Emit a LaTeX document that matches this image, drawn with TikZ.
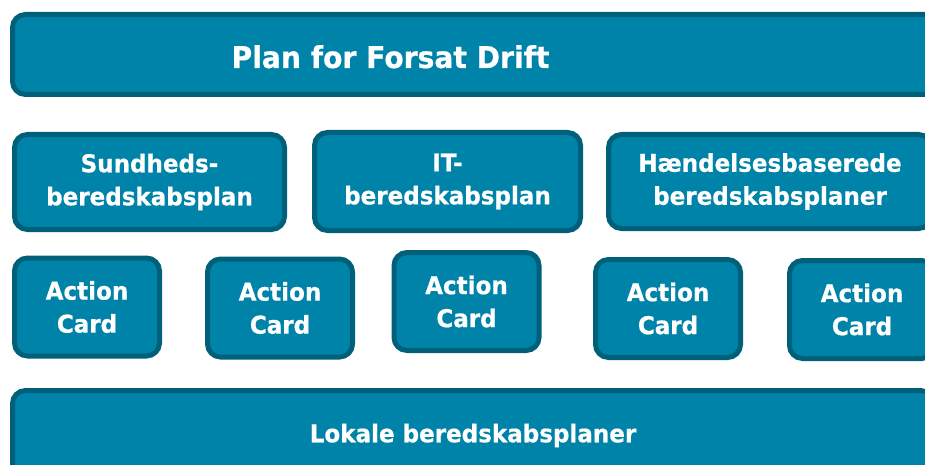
\documentclass[tikz,border=0pt]{standalone}
\usepackage{fontspec}
\setmainfont{DejaVu Sans}[FakeStretch=0.94, BoldFeatures={FakeBold=0.6}]
\usepackage{xcolor}
\usepackage{tikz}
\definecolor{planfill}{RGB}{0,131,168}
\definecolor{planedge}{RGB}{0,96,122}
\tikzset{
    planbox/.style={draw=planedge, fill=planfill, line width=5pt, rounded corners=13pt,
        text=white, align=center, inner sep=0pt,
        font=\bfseries\fontsize{24.5}{33}\selectfont},
    cardbox/.style={planbox, minimum width=145pt, minimum height=98pt},
    bigtext/.style={text=white, inner sep=0pt, font=\bfseries\fontsize{30}{36}\selectfont}
}

\begin{document}
\begin{tikzpicture}[x=1pt,y=-1pt]
        \useasboundingbox (0,0) rectangle (925,465);
        \clip (0,0) rectangle (925,465);
        \begin{scope}
            % top and bottom bars
            \draw (477.5,54.5) node[planbox,minimum width=930pt,minimum height=80pt](forsat){};
            \draw (390.5,68)   node[bigtext,anchor=base](forsattext){Plan for Forsat Drift};
            \draw (473,435.5)  node[planbox,minimum width=921pt,minimum height=90pt](lokale){Lokale beredskabsplaner};

            % plans
            \draw (149.5,182)  node[planbox,minimum width=270pt,minimum height=95pt](sund){Sundheds-\\beredskabsplan};
            \draw (447.5,181.5)node[planbox,minimum width=266pt,minimum height=98pt](it){IT-\\beredskabsplan};
            \draw (770,181.5)  node[planbox,minimum width=323pt,minimum height=94pt](haend){Hændelsesbaserede\\beredskabsplaner};

            % action cards
            \draw (87,307)     node[cardbox](card1){Action\\Card};
            \draw (280,308)    node[cardbox](card2){Action\\Card};
            \draw (466.5,301.5)node[cardbox](card3){Action\\Card};
            \draw (668,308.5)  node[cardbox](card4){Action\\Card};
            \draw (862,309.5)  node[cardbox](card5){Action\\Card};
        \end{scope}
    \end{tikzpicture}
\end{document}
